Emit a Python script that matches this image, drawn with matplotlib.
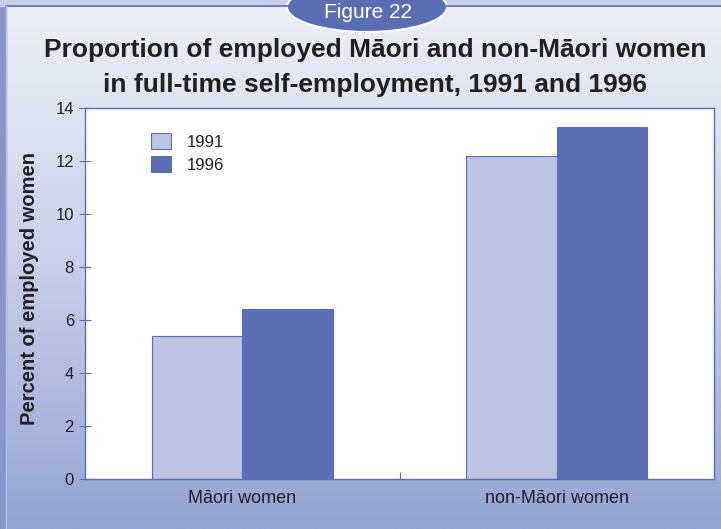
import numpy as np
import matplotlib.pyplot as plt
from matplotlib.patches import Ellipse, Rectangle
from matplotlib.colors import LinearSegmentedColormap

categories = ["Māori women", "non-Māori women"]
years = ["1991", "1996"]
values_1991 = [5.4, 12.2]
values_1996 = [6.4, 13.3]

light = "#bcc5e3"
dark = "#5a6eb4"
edge = "#5b6db5"
text_col = "#231f20"

plt.rcParams["font.family"] = ["Liberation Sans", "DejaVu Sans"]

fig = plt.figure(figsize=(7.21, 5.29), dpi=100)

# page background: soft vertical gradient with a darker strip on the left
bg = fig.add_axes([0, 0, 1, 1], zorder=-2)
cmap = LinearSegmentedColormap.from_list("bg", ["#eef0f8", "#c8cfea", "#94a4d3"])
grad = np.linspace(0, 1, 256).reshape(-1, 1)
bg.imshow(grad, aspect="auto", cmap=cmap, extent=[0, 721, 529, 0])
bg.add_patch(Rectangle((0, 0), 6, 529, color="#8696cb"))
bg.add_patch(Rectangle((0, 0), 721, 6, color="#c9cfe6"))
bg.plot([6, 721], [6, 6], color=edge, lw=1.2)
bg.plot([6, 6], [6, 529], color="#b9c2e4", lw=1.0)
bg.add_patch(Ellipse((367, 7), 160, 50, facecolor=dark, edgecolor="white", lw=1.5))
bg.text(368, 12, "Figure 22", color="white", fontsize=15, ha="center", va="center")
bg.set_xlim(0, 721)
bg.set_ylim(529, 0)
bg.axis("off")

fig.text(0.520, 0.906, "Proportion of employed Māori and non-Māori women",
         ha="center", va="center", fontsize=19, fontweight="bold", color=text_col)
fig.text(0.520, 0.839, "in full-time self-employment, 1991 and 1996",
         ha="center", va="center", fontsize=19, fontweight="bold", color=text_col)

ax = fig.add_axes([85 / 721, 50 / 529, 629 / 721, 371 / 529])
x = np.arange(len(categories))
w = 0.288
ax.bar(x - w / 2, values_1991, w, color=light, edgecolor=edge, lw=0.8, label=years[0])
ax.bar(x + w / 2, values_1996, w, color=dark, edgecolor=dark, lw=0.8, label=years[1])

ax.set_xlim(-0.5, 1.5)
ax.set_ylim(0, 14)
ax.set_yticks(range(0, 15, 2))
ax.set_xticks([0.5])
ax.set_xticklabels([""])
ax.tick_params(axis="x", direction="in", length=5, color=edge)
ax.tick_params(axis="y", direction="inout", length=8, color=edge, labelsize=12,
               labelcolor=text_col, pad=4)
for i, c in enumerate(categories):
    ax.text(i, -0.72, c, ha="center", va="center", fontsize=13, color=text_col)
for s in ax.spines.values():
    s.set_color(edge)
    s.set_linewidth(1.0)
ax.set_ylabel("Percent of employed women", fontsize=14.5, fontweight="bold",
              color=text_col)
ax.yaxis.set_label_coords(-0.073, 0.514)

leg = ax.legend(loc="upper left", bbox_to_anchor=(0.094, 0.951), frameon=False,
                fontsize=12, handlelength=1.2, handleheight=1.15, labelspacing=0.35,
                handletextpad=0.95, borderaxespad=0)
for t in leg.get_texts():
    t.set_color(text_col)

fig.savefig("out.png", dpi=100)
